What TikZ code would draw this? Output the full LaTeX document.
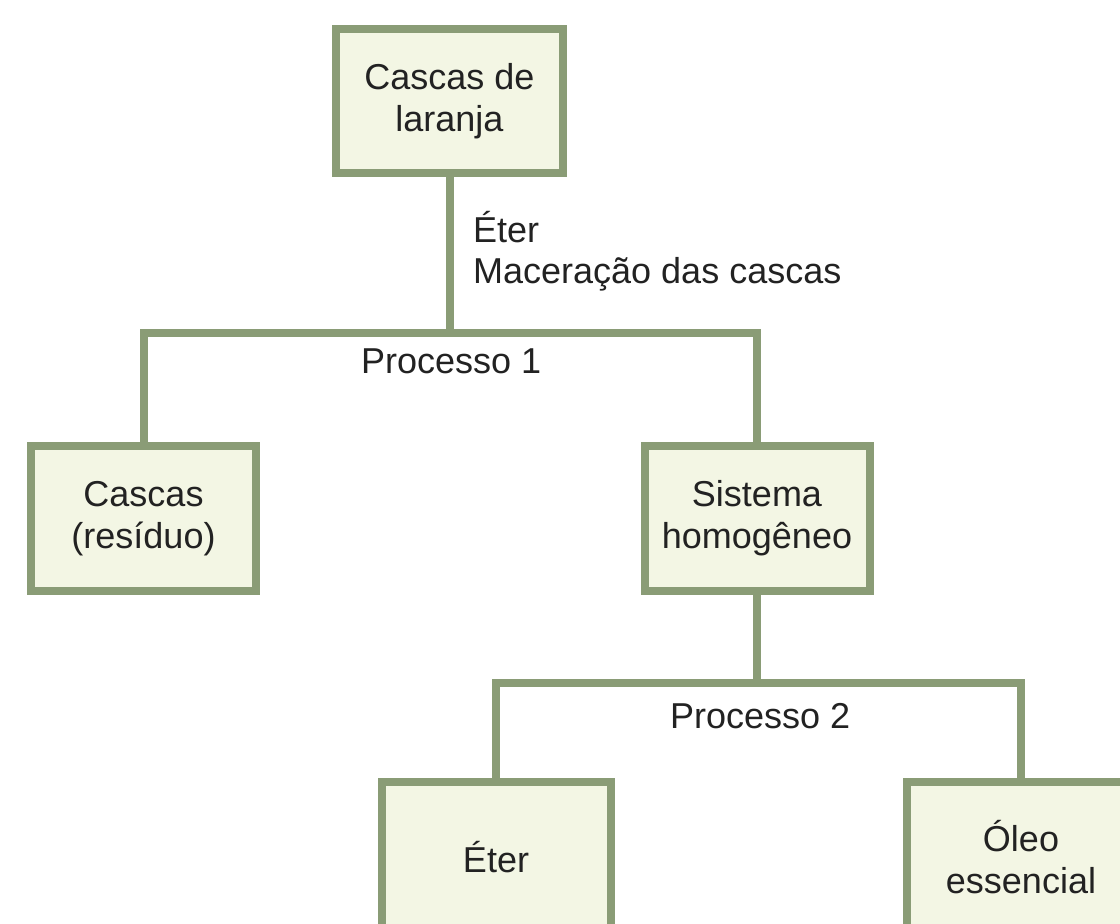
\documentclass[tikz,border=0pt]{standalone}
\usepackage{fontspec}
\setmainfont{Liberation Sans}
\definecolor{boxline}{HTML}{8A9C76}
\definecolor{boxfill}{HTML}{F3F6E4}
\definecolor{txt}{HTML}{222222}
\begin{document}
\begin{tikzpicture}[x=1pt,y=-1pt,
  stepbox/.style={draw=boxline,fill=boxfill,line width=8pt,inner sep=0pt,
    align=center,text=txt,font=\fontsize{36}{42}\selectfont},
  conn/.style={draw=boxline,line width=8pt},
  lbl/.style={inner sep=0pt,text=txt,font=\fontsize{36}{42}\selectfont,anchor=base west}]
\useasboundingbox[fill=white] (0,0) rectangle (1120,924);
\node[stepbox,minimum width=227pt,minimum height=144pt] (top) at (449.5,101) {Cascas de\\laranja};
\node[stepbox,minimum width=225pt,minimum height=145pt] (left) at (143.5,518.5) {Cascas\\(resíduo)};
\node[stepbox,minimum width=225pt,minimum height=145pt] (right) at (757,518.5) {Sistema\\homogêneo};
\node[stepbox,minimum width=229pt,minimum height=150pt] (eter) at (496,857) {Éter};
\node[stepbox,minimum width=229pt,minimum height=150pt] (oleo) at (1021,857) {Óleo\\essencial};
\coordinate (j1) at (449.5,333);
\coordinate (j2) at (757,683);
\draw[conn] (top.south) -- (j1);
\draw[conn] (left.north) |- (j1) -| (right.north);
\draw[conn] (right.south) -- (j2);
\draw[conn] (eter.north) |- (j2) -| (oleo.north);
\node[lbl] (la) at (473,242) {Éter};
\node[lbl] (lb) at (473,283) {Maceração das cascas};
\node[lbl] (p1) at (361,373) {Processo 1};
\node[lbl] (p2) at (670,728) {Processo 2};
\end{tikzpicture}
\end{document}
